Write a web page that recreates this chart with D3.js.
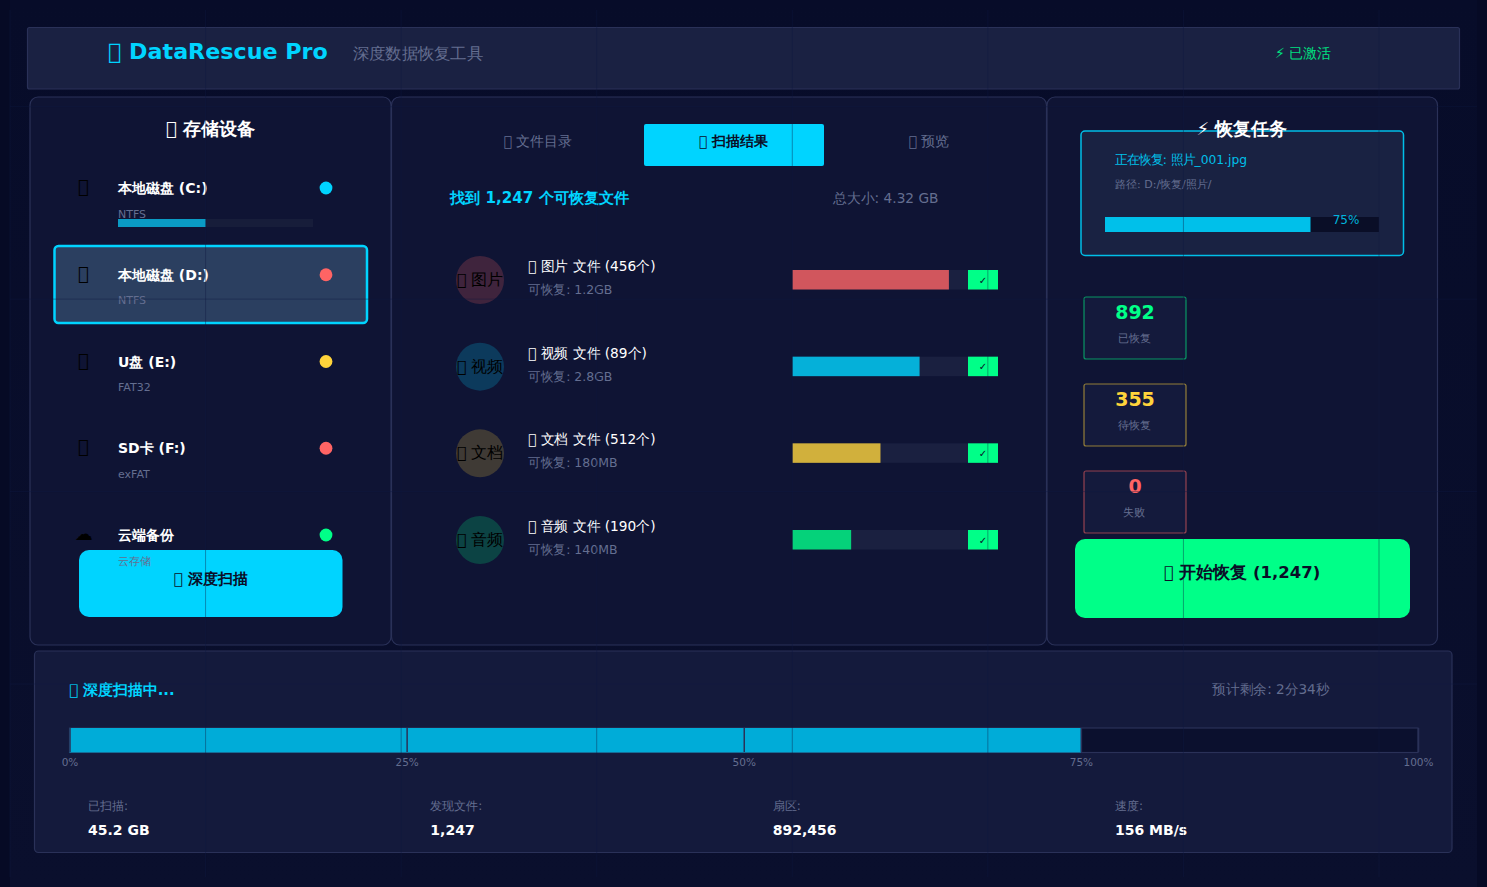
<!DOCTYPE html>
<html>
<head>
<meta charset="UTF-8">
<title>DataRescue Pro</title>
<script src="https://cdnjs.cloudflare.com/ajax/libs/d3/7.8.5/d3.min.js"></script>
<style>
  html, body { margin: 0; padding: 0; background: #080c2a; overflow: hidden; }
  svg { display: block; font-family: "DejaVu Sans", sans-serif; }
</style>
</head>
<body>
<svg id="chart" width="1487" height="887"></svg>
<script>
// the icons come out as empty boxes in the original, missing glyphs
const box0 = "\uE000";

// data
const deviceNames = ["本地磁盘 (C:)", "本地磁盘 (D:)", "U盘 (E:)", "SD卡 (F:)", "云端备份"];
const deviceFormats = ["NTFS", "NTFS", "FAT32", "exFAT", "云存储"];
const deviceIcons = [box0, box0, box0, box0, "☁"];
const deviceStatus = ["normal", "damaged", "warning", "damaged", "online"];
const deviceUsage = [45];

const tabLabels = [box0 + " 文件目录", box0 + " 扫描结果", box0 + " 预览"];

const fileTypes = ["图片", "视频", "文档", "音频"];
const fileCounts = [456, 89, 512, 190];
const fileSizes = ["1.2GB", "2.8GB", "180MB", "140MB"];
const filePercents = [80, 65, 45, 30];

const taskPercent = 75;
const statValues = [892, 355, 0];
const statLabels = ["已恢复", "待恢复", "失败"];

const scanPercent = 75;
const scanTicks = [0, 25, 50, 75, 100];
const scanLabels = ["已扫描:", "发现文件:", "扇区:", "速度:"];
const scanValues = ["45.2 GB", "1,247", "892,456", "156 MB/s"];

const muted = "#646e90";
const cyan = "#00d4ff";
const green = "#00ff88";
const dark = "#0a0e27";
const border = "#2a3158";

const statusColor = d3.scaleOrdinal(["normal", "damaged", "warning", "online"], [cyan, "#ff6464", "#ffd43b", green]);
const fileColor = d3.scaleOrdinal(fileTypes, ["#ff6464", cyan, "#ffd43b", green]);
const statColor = d3.scaleOrdinal(statLabels, [green, "#ffd43b", "#ff6464"]);

const svg = d3.select("#chart");

const defs = svg.append("defs");
const bg = defs.append("linearGradient").attr("id", "bg").attr("x1", 0).attr("y1", 0).attr("x2", 0).attr("y2", 1);
bg.append("stop").attr("offset", 0).attr("stop-color", "#070c29");
bg.append("stop").attr("offset", 1).attr("stop-color", "#0a0f2d");

function box(parent, x0, y0, x1, y1, fill, stroke, sw, r) {
  return parent.append("rect")
    .attr("x", x0).attr("y", y0)
    .attr("width", x1 - x0).attr("height", y1 - y0)
    .attr("rx", r || 0)
    .attr("fill", fill)
    .attr("stroke", stroke || "none")
    .attr("stroke-width", sw || 0);
}

// sx squeezes the text horizontally, the original art is not uniformly scaled
function label(parent, x, y, str, size, fill, opts) {
  opts = opts || {};
  return parent.append("text")
    .attr("transform", `translate(${x},${y}) scale(${opts.sx || 1},1)`)
    .attr("font-size", size)
    .attr("font-weight", opts.bold ? "bold" : "normal")
    .attr("text-anchor", opts.anchor || "start")
    .attr("fill", fill)
    .text(str);
}

svg.append("rect").attr("width", 1487).attr("height", 887).attr("fill", "url(#bg)");
box(svg, 0, 0, 10, 887, "#060a25");
box(svg, 1477, 0, 1487, 887, "#060a25");

// header
box(svg, 27.5, 27.5, 1459.5, 89, "#1a2142", border, 1.2, 2);
label(svg, 108, 59, box0 + " DataRescue Pro", 22, cyan, { bold: true, sx: 1.01 });
label(svg, 353, 59, "深度数据恢复工具", 16, muted, { sx: 1.03 });
label(svg, 1275, 58, "⚡ 已激活", 14, "#00e080");

// panels
const panelFill = "#0f1434";
box(svg, 30, 97, 391, 645, panelFill, border, 1.2, 8);
box(svg, 391.5, 97, 1046.5, 645, panelFill, border, 1.2, 8);
box(svg, 1047, 97, 1437.5, 645, panelFill, border, 1.2, 8);
box(svg, 34.5, 651, 1452, 852.5, "#141a3c", border, 1.2, 4);

// devices
label(svg, 210.5, 135, box0 + " 存储设备", 18, "#fff", { bold: true, anchor: "middle" });
box(svg, 79, 550, 342.5, 617, cyan, null, 0, 10);
label(svg, 210.5, 584, box0 + " 深度扫描", 15, dark, { bold: true, anchor: "middle" });

const deviceY = d3.scalePoint().domain(deviceNames).range([188, 535]);
box(svg, 54.5, 246, 367, 323, "#2b3f60", cyan, 2.5, 4);

const usageX = d3.scaleLinear().domain([0, 100]).range([118, 313]);
const devices = svg.append("g").selectAll("g").data(deviceNames).join("g")
  .attr("transform", d => `translate(0,${deviceY(d)})`);
devices.append("text").attr("x", 83.5).attr("y", 5)
  .attr("font-size", 18).attr("text-anchor", "middle").attr("fill", "#000")
  .text((d, i) => deviceIcons[i]);
devices.append("text").attr("x", 118).attr("y", 5)
  .attr("font-size", 14).attr("font-weight", "bold").attr("fill", "#fff").text(d => d);
devices.append("text").attr("x", 118).attr("y", 29.5)
  .attr("font-size", 11).attr("fill", muted).text((d, i) => deviceFormats[i]);
devices.append("circle").attr("cx", 326).attr("r", 6.4)
  .attr("fill", (d, i) => statusColor(deviceStatus[i]));

const usage = svg.append("g").selectAll("g").data(deviceUsage).join("g");
usage.append("rect").attr("x", usageX(0)).attr("y", 219).attr("height", 8)
  .attr("width", usageX(100) - usageX(0)).attr("fill", "#171d3a");
usage.append("rect").attr("x", usageX(0)).attr("y", 219).attr("height", 8)
  .attr("width", d => usageX(d) - usageX(0)).attr("fill", "#0a9bc4");

// tabs
box(svg, 644, 124, 824, 166, cyan, null, 0, 2);
const tabX = d3.scalePoint().domain(tabLabels).range([538, 929]);
svg.append("g").selectAll("text").data(tabLabels).join("text")
  .attr("transform", d => `translate(${tabX(d)},146)`)
  .attr("text-anchor", "middle").attr("font-size", 14)
  .attr("font-weight", (d, i) => i === 1 ? "bold" : "normal")
  .attr("fill", (d, i) => i === 1 ? dark : muted)
  .text(d => d);

label(svg, 450, 203, "找到 1,247 个可恢复文件", 15, cyan, { bold: true, sx: 1.01 });
label(svg, 833, 203, "总大小: 4.32 GB", 14, muted, { sx: 0.98 });

// file rows
const fileY = d3.scalePoint().domain(fileTypes).range([280, 540]);
const fileX = d3.scaleLinear().domain([0, 100]).range([792.5, 988]);
const rows = svg.append("g").selectAll("g").data(fileTypes).join("g")
  .attr("transform", d => `translate(0,${fileY(d)})`);
rows.append("circle").attr("cx", 480).attr("r", 24)
  .attr("fill", d => fileColor(d)).attr("fill-opacity", 0.2);
rows.append("text").attr("x", 480).attr("y", 5)
  .attr("text-anchor", "middle").attr("font-size", 16).attr("fill", "#000")
  .text(d => `${box0} ${d}`);
rows.append("text").attr("transform", "translate(528,-9) scale(0.98,1)")
  .attr("font-size", 14).attr("fill", "#fff")
  .text((d, i) => `${box0} ${d} 文件 (${fileCounts[i]}个)`);
rows.append("text").attr("transform", "translate(528,14) scale(0.96,1)")
  .attr("font-size", 13).attr("fill", muted)
  .text((d, i) => `可恢复: ${fileSizes[i]}`);
rows.append("rect").attr("x", fileX(0)).attr("y", -10).attr("height", 19.5)
  .attr("width", fileX(100) - fileX(0)).attr("fill", "#1a2040");
rows.append("rect").attr("x", fileX(0)).attr("y", -10).attr("height", 19.5)
  .attr("width", (d, i) => fileX(filePercents[i]) - fileX(0))
  .attr("fill", d => fileColor(d)).attr("fill-opacity", 0.8);
rows.append("rect").attr("x", 968).attr("y", -10).attr("width", 30).attr("height", 19.5).attr("fill", green);
rows.append("text").attr("x", 983).attr("y", 3.5).attr("text-anchor", "middle")
  .attr("font-size", 10).attr("fill", dark).text("✓");

// recovery task
box(svg, 1081, 131, 1403.5, 255.5, "#192242", "#00bfe8", 1.5, 4);
label(svg, 1242, 135, "⚡ 恢复任务", 18, "#fff", { bold: true, anchor: "middle" });
label(svg, 1115, 164, "正在恢复: 照片_001.jpg", 12.5, "#00c0ea", { sx: 0.985 });
label(svg, 1115, 188, "路径: D:/恢复/照片/", 11, muted);
const taskX = d3.scaleLinear().domain([0, 100]).range([1105, 1379]);
svg.append("rect").attr("x", taskX(0)).attr("y", 217).attr("height", 15)
  .attr("width", taskX(100) - taskX(0)).attr("fill", dark);
svg.append("rect").attr("x", taskX(0)).attr("y", 217).attr("height", 15)
  .attr("width", taskX(taskPercent) - taskX(0)).attr("fill", "#00c0ea");
label(svg, 1346, 224, `${taskPercent}%`, 12, "#00b4dc", { anchor: "middle" });

const statY = d3.scalePoint().domain(statLabels).range([297, 471]);
const stats = svg.append("g").selectAll("g").data(statLabels).join("g")
  .attr("transform", d => `translate(0,${statY(d)})`);
stats.append("rect").attr("x", 1084).attr("width", 102).attr("height", 62).attr("rx", 2)
  .attr("fill", "#141a3c").attr("stroke", d => statColor(d)).attr("stroke-opacity", 0.55).attr("stroke-width", 1.2);
stats.append("text").attr("x", 1135).attr("y", 21.5).attr("text-anchor", "middle")
  .attr("font-size", 19).attr("font-weight", "bold").attr("fill", d => statColor(d))
  .text((d, i) => statValues[i]);
stats.append("text").attr("x", 1134).attr("y", 45).attr("text-anchor", "middle")
  .attr("font-size", 10.5).attr("fill", muted).text(d => d);

box(svg, 1075, 539, 1410, 618, green, null, 0, 10);
label(svg, 1242, 578, box0 + " 开始恢复 (1,247)", 16.5, dark, { bold: true, anchor: "middle" });

// scan progress
label(svg, 69, 695, box0 + " 深度扫描中...", 15, cyan, { bold: true, sx: 0.99 });
label(svg, 1212, 694, "预计剩余: 2分34秒", 14, muted, { sx: 0.97 });

const scanX = d3.scaleLinear().domain([0, 100]).range([69.5, 1418]);
box(svg, scanX(0), 728, scanX(100), 752.5, "#0b102e", border, 1.2);
svg.append("rect").attr("x", scanX(0)).attr("y", 728).attr("height", 24.5)
  .attr("width", scanX(scanPercent) - scanX(0)).attr("fill", "#00acd8");

const scanAxis = svg.append("g").attr("transform", "translate(0,752)")
  .call(d3.axisBottom(scanX).tickValues(scanTicks).tickFormat(d => `${d}%`).tickSize(-24).tickPadding(7));
scanAxis.select(".domain").remove();
scanAxis.selectAll("line").attr("stroke", border).attr("stroke-width", 1.5);
scanAxis.selectAll("text").attr("font-size", 10.5).attr("fill", muted)
  .attr("font-family", '"DejaVu Sans", sans-serif');

const scanColX = d3.scalePoint().domain(scanLabels).range([88, 1115]);
scanLabels.forEach((d, i) => {
  label(svg, scanColX(d), 809.5, d, 12, muted);
  label(svg, scanColX(d), 835, scanValues[i], 14, "#fff", { bold: true });
});

// faint grid sits on top of everything
const gridX = d3.scaleLinear().domain([0, 7]).range([10, 1379]);
const gridY = d3.scaleLinear().domain([0, 3]).range([106.7, 684]);
const grid = svg.append("g").attr("stroke", "#0f1a40").attr("stroke-opacity", 0.4).attr("stroke-width", 1);
grid.selectAll(".v").data(d3.range(8)).join("line").attr("class", "v")
  .attr("x1", d => gridX(d)).attr("x2", d => gridX(d))
  .attr("y1", 10).attr("y2", 877);
grid.selectAll(".h").data(d3.range(4)).join("line").attr("class", "h")
  .attr("x1", 10).attr("x2", 1477)
  .attr("y1", d => gridY(d)).attr("y2", d => gridY(d));
</script>
</body>
</html>
